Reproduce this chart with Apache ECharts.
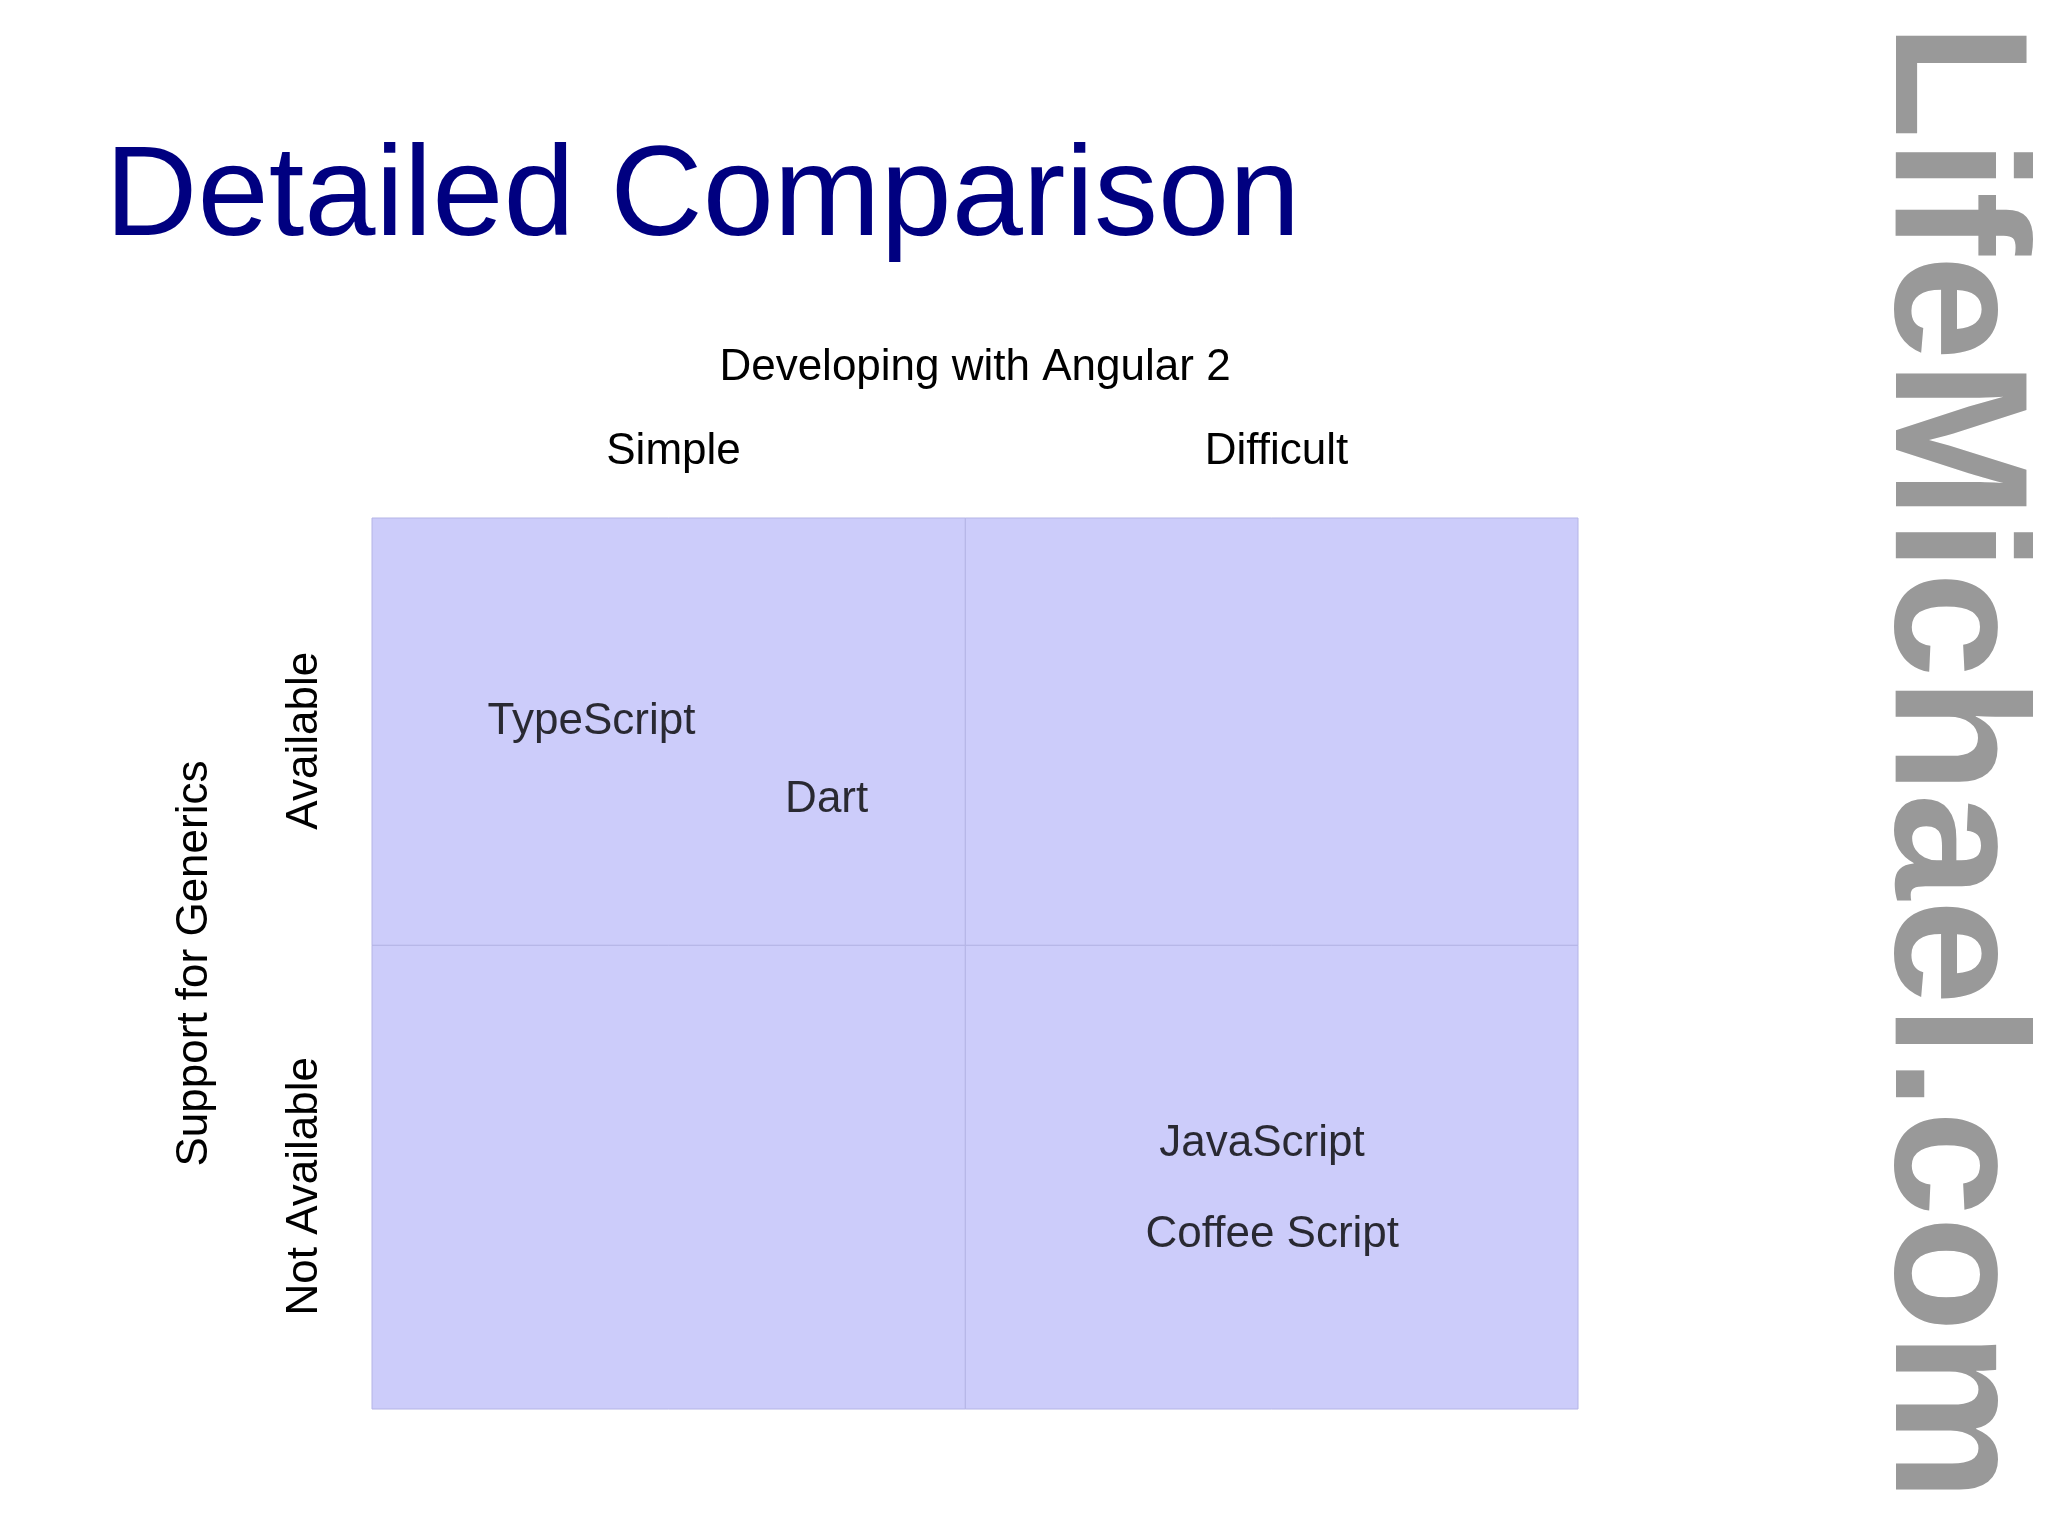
<!DOCTYPE html>
<html><head><meta charset="utf-8">
<script src="https://cdn.jsdelivr.net/npm/echarts@6/dist/echarts.min.js"></script>
<style>html,body{margin:0;background:#fff}#c{width:2048px;height:1535px}</style>
</head><body><div id="c"></div>
<script>
const xCategories = ['Simple', 'Difficult'];
const yCategories = ['Not Available', 'Available'];
const languages = ['TypeScript', 'Dart', 'JavaScript', 'Coffee Script'];
const langX = [0.364, 0.754, 1.476, 1.493];
const langY = [1.543, 1.367, 0.595, 0.390];
const xBounds = [0, 0.984, 2];
const yBounds = [0, 1.041, 2];

const quads = [];
for (let i = 0; i < 2; i++) for (let j = 0; j < 2; j++)
  quads.push([{xAxis: xBounds[i], yAxis: yBounds[j]}, {xAxis: xBounds[i+1], yAxis: yBounds[j+1]}]);

const chart = echarts.init(document.getElementById('c'));
const font = 'Liberation Sans';
chart.setOption({
  backgroundColor: '#fff',
  textStyle: {fontFamily: font},
  title: {text: 'Detailed Comparison', left: 100, top: 131,
    textStyle: {fontFamily: font, fontSize: 128, fontWeight: 'normal', color: '#000080'}},
  graphic: [{type: 'text', x: 1948, y: 762, rotation: -Math.PI/2,
    style: {text: 'LifeMichael.com', font: 'bold 190px "Liberation Sans"', fill: '#999999', align: 'center', verticalAlign: 'middle'}}],
  grid: {left: 372, right: 470, top: 518, bottom: 126},
  xAxis: [
    {type: 'category', data: xCategories, position: 'top', name: 'Developing with Angular 2', nameLocation: 'middle', nameGap: 128,
     nameTextStyle: {fontSize: 44, color: '#000'}, axisLine: {show: false}, axisTick: {show: false},
     axisLabel: {fontSize: 44, color: '#000', margin: 44}},
    {type: 'value', min: 0, max: 2, show: false}
  ],
  yAxis: [
    {type: 'category', data: yCategories, name: 'Support for Generics', nameLocation: 'middle', nameGap: 155,
     nameTextStyle: {fontSize: 44, color: '#000'}, axisLine: {show: false}, axisTick: {show: false},
     axisLabel: {fontSize: 44, color: '#000', rotate: 90, margin: 45}},
    {type: 'value', min: 0, max: 2, show: false}
  ],
  series: [
    {type: 'scatter', xAxisIndex: 1, yAxisIndex: 1, symbolSize: 0,
     data: languages.map((n, i) => ({name: n, value: [langX[i], langY[i]]})),
     label: {show: true, position: 'inside', formatter: '{b}', fontSize: 44, color: '#000', fontFamily: font},
     markArea: {silent: true, itemStyle: {color: '#ccccfa', borderColor: '#b4b4e6', borderWidth: 1}, data: quads}}
  ]
});
</script></body></html>
